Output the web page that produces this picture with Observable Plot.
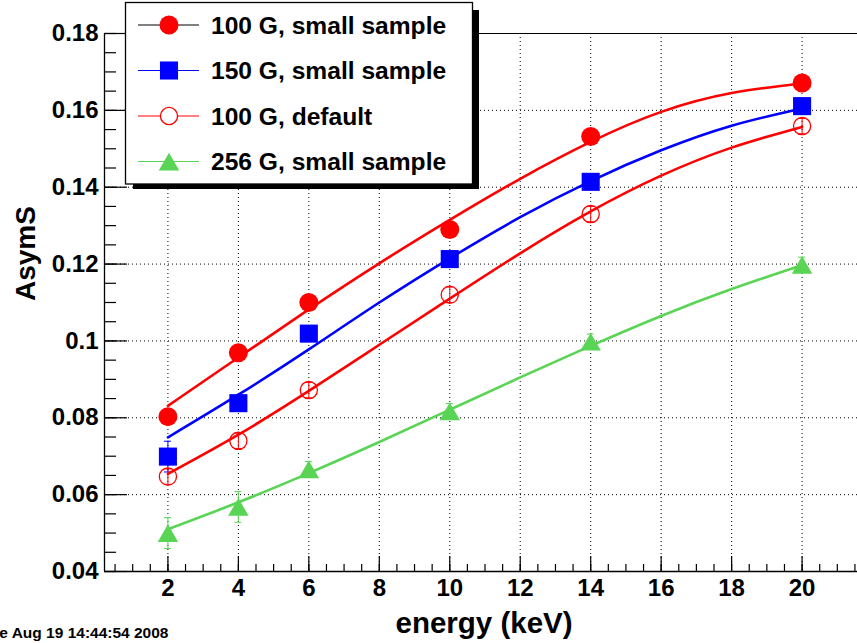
<!DOCTYPE html>
<html>
<head>
<meta charset="utf-8">
<script src="https://cdn.jsdelivr.net/npm/d3@7"></script>
<script src="https://cdn.jsdelivr.net/npm/@observablehq/plot@0.6"></script>
<style>
  html, body { margin: 0; padding: 0; background: #fff; }
  #chart { position: relative; width: 857px; height: 643px; overflow: hidden; }
</style>
</head>
<body>
<div id="chart"></div>
<script>
// Measured asymmetry vs. beam energy, four field / sample configurations
const energies = [2, 4, 6, 10, 14, 20];

const asym100Small   = [0.0803, 0.0969, 0.1100, 0.1290, 0.1532, 0.1671];
const err100Small    = [0.002, 0.002, 0.002, 0.002, 0.002, 0.002];
const asym150Small   = [0.0699, 0.0838, 0.1019, 0.1213, 0.1414, 0.1611];
const err150Small    = [0.004, 0.002, 0.002, 0.002, 0.002, 0.002];
const asym100Default = [0.0647, 0.0740, 0.0872, 0.1120, 0.1330, 0.1559];
const err100Default  = [0.002, 0.002, 0.002, 0.002, 0.002, 0.002];
const asym256Small   = [0.0500, 0.0568, 0.0666, 0.0817, 0.0998, 0.1198];
const err256Small    = [0.004, 0.004, 0.002, 0.002, 0.002, 0.002];

// Fitted curves, sampled along the energy axis
const fitEnergies     = [2, 4, 6, 8, 10, 12, 14, 16, 18, 20];
const fit100Small     = [0.0831, 0.0957, 0.1082, 0.1202, 0.1315, 0.1422, 0.1518, 0.1596, 0.1645, 0.1670];
const fit150Small     = [0.0749, 0.0860, 0.0978, 0.1100, 0.1215, 0.1322, 0.1416, 0.1496, 0.1560, 0.1605];
const fit100Default   = [0.0654, 0.0756, 0.0870, 0.0990, 0.1110, 0.1228, 0.1337, 0.1430, 0.1503, 0.1557];
const fit256Small     = [0.0510, 0.0580, 0.0656, 0.0737, 0.0821, 0.0905, 0.0987, 0.1065, 0.1135, 0.1197];

const seriesNames = ["100 G, small sample", "150 G, small sample", "100 G, default", "256 G, small sample"];

// Axis ticks and their labels
const xMajorTicks = [2, 4, 6, 8, 10, 12, 14, 16, 18, 20];
const xTickLabels = ["2", "4", "6", "8", "10", "12", "14", "16", "18", "20"];
const xMinorTicks = d3.range(0.5, 21.75, 0.5);
const yMajorTicks = [0.04, 0.06, 0.08, 0.10, 0.12, 0.14, 0.16, 0.18];
const yTickLabels = ["0.04", "0.06", "0.08", "0.1", "0.12", "0.14", "0.16", "0.18"];
const yMinorTicks = d3.range(0, 29).map(i => 0.04 + i * 0.005);
const yGridTicks  = [0.06, 0.08, 0.10, 0.12, 0.14, 0.16];

const X_DOMAIN = [0.2, 21.8];
const Y_DOMAIN = [0.04, 0.18];
const FONT = "'Liberation Sans', Arial, Helvetica, sans-serif";

const RED = "#ff0000", BLUE = "#0000ff", GREEN = "#59d454";

const series = [
  {name: seriesNames[0], vals: asym100Small,   errs: err100Small,   fit: fit100Small,   color: RED,   symbol: "circle",   r: 9.5,  filled: true,  dy: 0, legendLine: "#000"},
  {name: seriesNames[1], vals: asym150Small,   errs: err150Small,   fit: fit150Small,   color: BLUE,  symbol: "square",   r: 10.2, filled: true,  dy: 0, legendLine: BLUE},
  {name: seriesNames[2], vals: asym100Default, errs: err100Default, fit: fit100Default, color: RED,   symbol: "circle",   r: 8.6,  filled: false, dy: 0, legendLine: RED},
  {name: seriesNames[3], vals: asym256Small,   errs: err256Small,   fit: fit256Small,   color: GREEN, symbol: "triangle", r: 7.6,  filled: true,  dy: 3, legendLine: GREEN}
];

series.forEach(s => {
  s.points = energies.map((e, i) => ({energy: e, asym: s.vals[i], err: s.errs[i]}));
  s.curve = fitEnergies.map((e, i) => ({energy: e, asym: s.fit[i]}));
});

const dotted = {stroke: "#000", strokeWidth: 1, strokeDasharray: "1,3"};
const findLabel = (ticks, labels) => d => labels[ticks.indexOf(d)] ?? "";

const marks = [
  // grid
  Plot.ruleX(xMajorTicks, dotted),
  Plot.ruleY(yGridTicks, dotted),
  // frame edges
  Plot.ruleY([Y_DOMAIN[1]], {stroke: "#000", strokeWidth: 1.2}),
  Plot.ruleY([Y_DOMAIN[0]], {stroke: "#000", strokeWidth: 1.3}),
  Plot.ruleX([X_DOMAIN[0]], {stroke: "#000", strokeWidth: 1.3}),
  // inward ticks
  Plot.axisX({ticks: xMinorTicks, tickSize: -7, tickFormat: () => "", label: null, strokeWidth: 1.2}),
  Plot.axisX({ticks: xMajorTicks, tickSize: -15, tickFormat: () => "", label: null, strokeWidth: 1.2}),
  Plot.axisX({ticks: xMajorTicks, tickSize: 0, tickPadding: 7, tickFormat: findLabel(xMajorTicks, xTickLabels),
              label: null, fontSize: 24, fontWeight: "bold", fill: "#000"}),
  Plot.axisY({ticks: yMinorTicks, tickSize: -12, tickFormat: () => "", label: null, strokeWidth: 1.2}),
  Plot.axisY({ticks: yMajorTicks, tickSize: -23, tickFormat: () => "", label: null, strokeWidth: 1.2}),
  Plot.axisY({ticks: yMajorTicks, tickSize: 0, tickPadding: 6, tickFormat: findLabel(yMajorTicks, yTickLabels),
              label: null, fontSize: 24, fontWeight: "bold", fill: "#000"}),
  // axis titles
  Plot.text(["energy (keV)"], {text: d => d, frameAnchor: "bottom", dx: 3, dy: 52.5, lineAnchor: "middle",
              fontSize: 29.5, fontWeight: "bold", fill: "#000"}),
  Plot.text(["AsymS"], {text: d => d, frameAnchor: "left", rotate: -90, dx: -78.5, dy: -1.5, lineAnchor: "middle",
              fontSize: 28, fontWeight: "bold", fill: "#000"}),
  Plot.text(["Tue Aug 19 14:44:54 2008"], {text: d => d, frameAnchor: "bottom-left", dx: 64, dy: 61.5,
              textAnchor: "end", lineAnchor: "middle", fontSize: 15.5, fontWeight: "bold", fill: "#000"})
];

for (const s of series) {
  marks.push(Plot.line(s.curve, {x: "energy", y: "asym", curve: "natural", stroke: s.color, strokeWidth: 2.6}));
  marks.push(Plot.ruleX(s.points, {x: "energy", y1: d => d.asym - d.err, y2: d => d.asym + d.err, stroke: s.color, strokeWidth: 1}));
  marks.push(Plot.ruleY(s.points, {y: d => d.asym + d.err, x1: "energy", x2: "energy", insetLeft: -3.5, insetRight: -3.5, stroke: s.color, strokeWidth: 1}));
  marks.push(Plot.ruleY(s.points, {y: d => d.asym - d.err, x1: "energy", x2: "energy", insetLeft: -3.5, insetRight: -3.5, stroke: s.color, strokeWidth: 1}));
  marks.push(Plot.dot(s.points, {
    x: "energy", y: "asym", symbol: s.symbol, r: s.r, dy: s.dy,
    fill: s.filled ? s.color : "none", stroke: s.filled ? "none" : s.color, strokeWidth: 1.3
  }));
}

const svg = Plot.plot({
  width: 857, height: 643,
  marginLeft: 104, marginTop: 33, marginBottom: 72, marginRight: 0,
  style: {fontFamily: FONT, background: "#fff"},
  x: {domain: X_DOMAIN, range: [104, 865]},
  y: {domain: Y_DOMAIN, range: [571, 33]},
  marks
});

// Legend box with drop shadow
const lg = d3.select(svg).append("g").attr("font-family", FONT).attr("text-anchor", "start");
lg.append("rect").attr("x", 133).attr("y", 10).attr("width", 346).attr("height", 179).attr("fill", "#000");
lg.append("rect").attr("x", 125.5).attr("y", 2.5).attr("width", 347).attr("height", 181.5)
  .attr("fill", "#fff").attr("stroke", "#000").attr("stroke-width", 1.3);

const rowY = [25, 70.5, 116, 161.5];
series.forEach((s, i) => {
  const y = rowY[i];
  lg.append("line").attr("x1", 138).attr("x2", 199).attr("y1", y).attr("y2", y)
    .attr("stroke", s.legendLine).attr("stroke-width", 1);
  const sym = {circle: d3.symbolCircle, square: d3.symbolSquare, triangle: d3.symbolTriangle}[s.symbol];
  lg.append("path").attr("d", d3.symbol(sym, Math.PI * s.r * s.r)())
    .attr("transform", `translate(169,${y + s.dy})`)
    .attr("fill", s.filled ? s.color : "#fff")
    .attr("stroke", s.filled ? "none" : s.color).attr("stroke-width", 1.3);
  lg.append("text").attr("x", 211).attr("y", y + 8.6).attr("text-anchor", "start").text(s.name)
    .attr("font-size", 24.6).attr("font-weight", "bold").attr("fill", "#000");
});

document.getElementById("chart").appendChild(svg);
</script>
</body>
</html>
